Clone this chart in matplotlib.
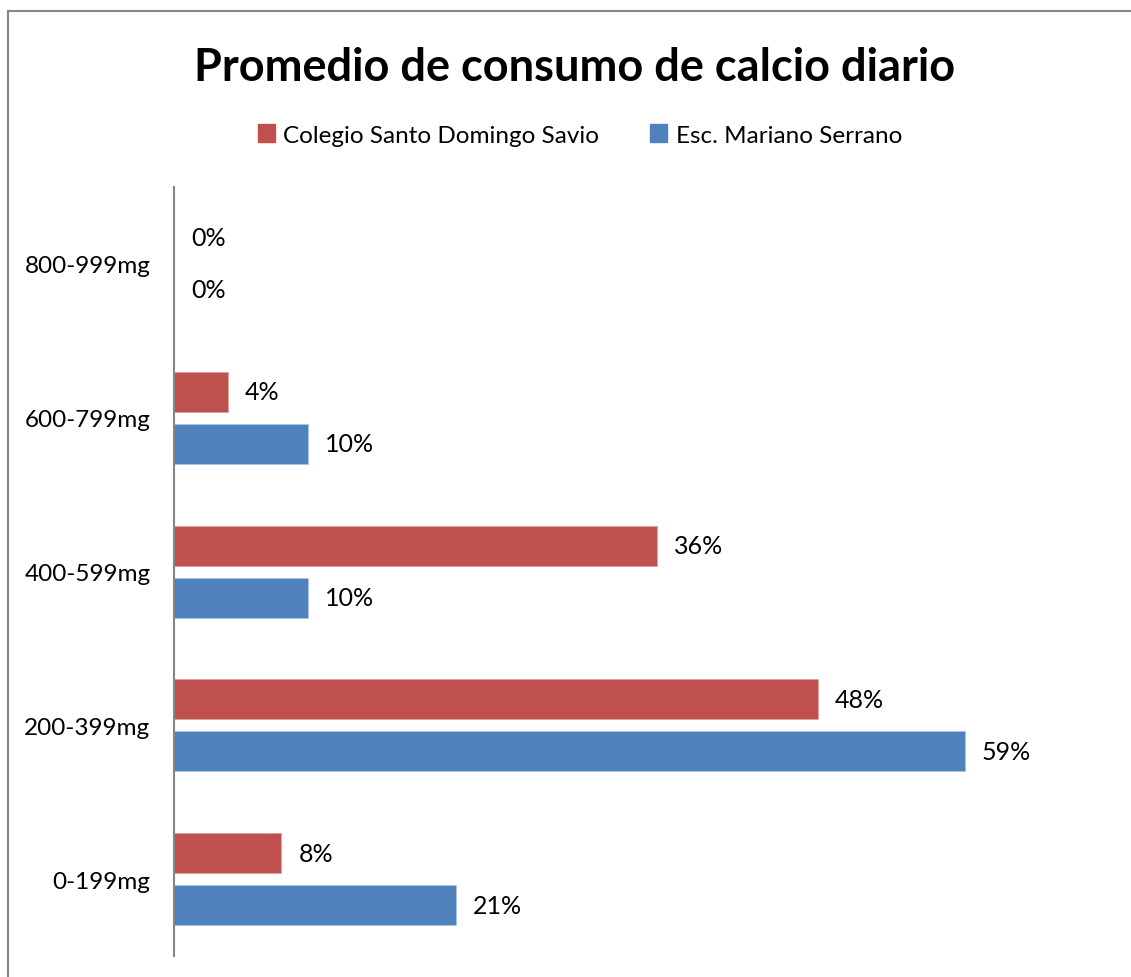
import matplotlib
matplotlib.use("Agg")
import matplotlib.pyplot as plt
from matplotlib.lines import Line2D
from matplotlib.patches import Patch
import numpy as np

plt.rcParams['font.family'] = ['Lato', 'DejaVu Sans']

categories = ["0-199mg", "200-399mg", "400-599mg", "600-799mg", "800-999mg"]
santo_domingo = [8, 48, 36, 4, 0]
mariano_serrano = [21, 59, 10, 10, 0]
series_names = ["Colegio Santo Domingo Savio", "Esc. Mariano Serrano"]

RED = "#C0504D"
BLUE = "#4F81BD"

W, H = 1131, 978
fig = plt.figure(figsize=(W / 100, H / 100), dpi=100)
fig.patch.set_facecolor("white")

# plot area in pixel terms
left_px, top_px, bottom_px = 174, 188, 957
xmax = 70
px_per_unit = 791 / 59
right_px = left_px + xmax * px_per_unit
ax = fig.add_axes([left_px / W, (H - bottom_px) / H,
                   (right_px - left_px) / W, (bottom_px - top_px) / H])

y = np.arange(len(categories))
off = 26 / 153.8
bh = 40 / 153.8
ax.barh(y + off, santo_domingo, height=bh, color=RED, edgecolor="#D9A3A1", linewidth=0.6)
ax.barh(y - off, mariano_serrano, height=bh, color=BLUE, edgecolor="#A9C4E6", linewidth=0.6)

pad = 17 / px_per_unit
for yi, v in zip(y + off, santo_domingo):
    ax.text(v + pad, yi, f"{v}%", va="center", ha="left", fontsize=18, color="black")
for yi, v in zip(y - off, mariano_serrano):
    ax.text(v + pad, yi, f"{v}%", va="center", ha="left", fontsize=18, color="black")

ax.set_xlim(0, xmax)
ax.set_ylim(-0.5, len(categories) - 0.5)
ax.set_yticks(y)
ax.set_yticklabels(categories, fontsize=17.5)
ax.tick_params(axis="y", length=0, pad=17)
ax.set_xticks([])
for s in ["top", "right", "bottom"]:
    ax.spines[s].set_visible(False)
ax.spines["left"].set_color("#868686")
ax.spines["left"].set_linewidth(1.5)

fig.text(575 / W, 1 - 68 / H, "Promedio de consumo de calcio diario",
         ha="center", va="center", fontsize=32.5, fontweight="bold")

handles = [Patch(facecolor=RED, edgecolor=RED), Patch(facecolor=BLUE, edgecolor=BLUE)]
fig.legend(handles, series_names, loc="center", bbox_to_anchor=(580 / W, 1 - 136 / H),
           ncol=2, frameon=False, fontsize=17.5, handlelength=0.7, handleheight=0.7,
           handletextpad=0.35, columnspacing=2.1)

# outer chart frame (left and top edges)
fig.add_artist(Line2D([8 / W, 8 / W], [0, 1 - 12 / H], transform=fig.transFigure,
                      color="#868686", linewidth=1.5))
fig.add_artist(Line2D([8 / W, 1], [1 - 12 / H, 1 - 12 / H], transform=fig.transFigure,
                      color="#868686", linewidth=1.5))

fig.savefig("out.png", dpi=100, facecolor="white")
